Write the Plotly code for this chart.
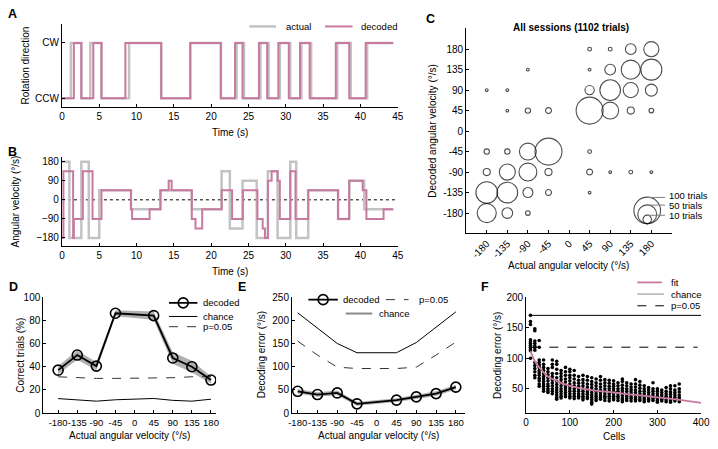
import plotly.graph_objects as go

W, H = 718, 449
FONT = "Liberation Sans, Arial, sans-serif"
PINK = "#c8799f"
LGRAY = "#c3c3c3"

# ---------------- Panel A : rotation direction (0 = CCW, 1 = CW) ----------------
a_time_actual = [0, 1.2, 2.6, 3.8, 5.3, 9.0, 13.3, 17.2, 21.3, 23.4, 24.4, 26.6, 27.7,
                 29.2, 30.6, 32.1, 33.4, 36.9, 38.7, 40.9, 44.4]
a_dir_actual = [0, 1, 0, 1, 0, 1, 0, 1, 0, 1, 0, 1, 0, 1, 0, 1, 0, 1, 0, 1]
a_time_decoded = [0, 1.6, 2.6, 4.2, 5.3, 8.5, 13.3, 17.2, 21.3, 23.2, 24.2, 26.4, 27.5,
                  29.0, 30.4, 31.9, 33.2, 36.7, 38.5, 40.7, 44.4]
a_dir_decoded = [0, 1, 0, 1, 0, 1, 0, 1, 0, 1, 0, 1, 0, 1, 0, 1, 0, 1, 0, 1]
a_dir_labels = ["CCW", "CW"]
time_ticks = [0, 5, 10, 15, 20, 25, 30, 35, 40, 45]

# ---------------- Panel B : angular velocity ----------------
b_time_actual = [0, 1.0, 2.6, 3.6, 5.0, 9.25, 13.2, 17.4, 21.4, 22.5, 24.2, 26.1, 27.6,
                 28.9, 30.6, 31.4, 33.0, 37.0, 38.5, 40.5, 44.4]
b_vel_actual = [180, -180, 180, -180, 45, -45, 45, -45, 135, -135, 90, -180, 135,
                -180, 180, -180, 45, -90, 90, -45]
b_time_decoded = [0, 0.2, 1.5, 1.6, 2.8, 4.1, 5.3, 9.25, 9.4, 11.75, 13.2, 14.3, 14.7,
                  17.4, 17.9, 18.8, 21.4, 22.8, 24.25, 26.2, 26.9, 27.2, 27.6, 28.1,
                  28.9, 29.2, 30.6, 31.3, 33.0, 37.0, 38.5, 40.3, 40.8, 43.1, 44.4]
b_vel_decoded = [-180, 135, -180, -90, 135, -90, 45, -45, -90, -45, 45, 90, 45,
                 -90, -135, -45, 45, -90, 45, -90, -135, -180, 90, 135,
                 90, -90, 135, -90, 45, -90, 90, 45, -90, -45]
b_vel_ticks = [-180, -90, 0, 90, 180]

# ---------------- Panel C : confusion bubbles ----------------
c_actual = [45, 90, 135, 180,
            -90, 45, 90, 135, 180,
            -180, -135, 45, 90, 135, 180,
            -135, -90, -45, 45, 90, 135, 180,
            -180, -135, -90, -45, 45,
            -180, -135, -90, -45, 45, 90, 135, 180,
            -180, -135, -90, -45, 45,
            -180, -135, -90]
c_decoded = [180, 180, 180, 180,
             135, 135, 135, 135, 135,
             90, 90, 90, 90, 90, 90,
             45, 45, 45, 45, 45, 45, 45,
             -45, -45, -45, -45, -45,
             -90, -90, -90, -90, -90, -90, -90, -90,
             -135, -135, -135, -135, -135,
             -180, -180, -180]
c_trials = [2, 2, 16, 32,
            1, 1, 16, 51, 62,
            1, 1, 12, 60, 32, 20,
            1, 4, 5, 102, 40, 7, 3,
            4, 4, 40, 102, 2,
            7, 36, 45, 7, 5, 1, 2, 1,
            66, 60, 14, 5, 1,
            51, 16, 3]
c_legend_trials = [100, 50, 10]
c_legend_labels = ["100 trials", "50 trials", "10 trials"]
c_title = "All sessions (1102 trials)"
vel_ticks = [-180, -135, -90, -45, 0, 45, 90, 135, 180]

# ---------------- Panel D : correct trials ----------------
d_vel = [-180, -135, -90, -45, 45, 90, 135, 180]
d_correct = [37, 50, 40.5, 86, 84, 47.5, 40, 28.5]
d_sem = [3.5, 4, 3.5, 2.5, 3.5, 5, 5, 3]
d_chance = [12.5, 11.5, 10.3, 11.5, 12, 12.6, 11, 10.3, 12]
d_p05 = [31.3, 30.5, 29.9, 29.9, 30, 29.9, 30.5, 31.3, 31.5]

# ---------------- Panel E : decoding error ----------------
e_error = [47, 40, 43.5, 20, 28, 35, 42, 56]
e_sem = [5, 5, 5, 4, 4, 5, 5, 5]
e_chance = [216, 182, 150, 130, 130, 130, 152, 184, 218]
e_p05 = [155, 125, 99, 96, 96, 96, 99, 125, 153]

# ---------------- Panel F : error vs. number of cells ----------------
f_cells = [10, 20, 30, 40, 50, 60, 70, 80, 90, 100, 110, 120, 130, 140, 150, 160, 170, 180,
           190, 200, 210, 220, 230, 240, 250, 260, 270, 280, 290, 300, 310, 320, 330, 340, 350]
f_errors = [
    [170, 160, 155, 130, 127, 124, 121, 118, 115, 112, 100],
    [148, 145, 128, 124, 120, 117, 113, 93, 88, 83, 78, 72, 68],
    [129, 118, 97, 93, 89, 85, 80, 76, 72, 67, 63, 58, 54],
    [97, 90, 85, 80, 75, 70, 66, 62, 58, 54, 50, 46],
    [83, 78, 73, 68, 63, 58, 54, 50, 47, 44],
    [97, 90, 85, 75, 70, 65, 60, 55, 50, 46, 42],
    [95, 90, 82, 75, 68, 62, 57, 52, 48, 44, 40, 36, 33],
    [80, 75, 70, 65, 60, 55, 50, 46, 42, 38, 35],
    [85, 78, 72, 66, 61, 56, 52, 48, 44, 40, 37],
    [82, 78, 72, 68, 63, 58, 54, 50, 46, 42, 38, 35],
    [80, 72, 66, 60, 55, 50, 46, 42, 38, 34],
    [70, 64, 59, 54, 50, 46, 42, 38, 35],
    [72, 65, 60, 55, 50, 46, 42, 38, 35, 32],
    [70, 64, 58, 53, 49, 45, 41, 37, 34],
    [68, 62, 57, 52, 48, 44, 40, 36, 32, 28, 25],
    [66, 60, 55, 50, 46, 42, 38, 34, 31],
    [70, 64, 58, 53, 48, 44, 40, 36, 33],
    [65, 60, 55, 50, 46, 42, 38, 35, 31],
    [64, 59, 54, 50, 46, 42, 38, 34, 30],
    [63, 58, 54, 50, 46, 42, 38, 35, 32],
    [60, 55, 50, 46, 42, 38, 35, 31],
    [66, 62, 56, 51, 47, 43, 39, 35, 32, 29],
    [60, 55, 50, 46, 42, 38, 34, 31],
    [58, 53, 49, 45, 41, 37, 34, 30],
    [65, 58, 53, 48, 44, 40, 36, 33, 30],
    [62, 56, 51, 46, 42, 38, 34, 31],
    [55, 50, 46, 42, 38, 35, 32, 29],
    [52, 48, 44, 40, 36, 33, 30],
    [60, 50, 46, 42, 38, 34, 31],
    [50, 46, 42, 38, 34, 31, 28],
    [48, 44, 40, 36, 33, 30],
    [52, 46, 42, 38, 35, 32, 29],
    [55, 50, 45, 41, 37, 34, 31, 28],
    [55, 48, 44, 40, 36, 33, 30],
    [58, 50, 45, 40, 36, 32, 29],
]
f_fit_cells = [10, 20, 30, 40, 50, 75, 100, 150, 200, 250, 300, 350, 400]
f_fit_error = [112, 95, 85, 77, 70, 61, 55, 48, 44, 40, 36, 32, 27]
f_chance_cells = [9, 400]
f_chance = [170, 170]
f_p05_cells = [12, 392]
f_p05 = [118, 118]

# ---------------- layout geometry (pixels) ----------------
def dom_x(x0, x1):
    return [x0 / W, x1 / W]

def dom_y(top, bottom):
    return [1 - bottom / H, 1 - top / H]

fig = go.Figure()

axis_common = dict(showline=True, linecolor="black", linewidth=1, ticks="inside",
                   ticklen=3, tickcolor="black", showgrid=False, zeroline=False,
                   tickfont=dict(size=10, color="black", family=FONT), mirror=False,
                   fixedrange=True)

# Panel A traces
fig.add_trace(go.Scatter(x=a_time_actual, y=a_dir_actual + [a_dir_actual[-1]], mode="lines",
                         line=dict(color=LGRAY, width=2.5, shape="hv"), xaxis="x", yaxis="y"))
fig.add_trace(go.Scatter(x=a_time_decoded, y=a_dir_decoded + [a_dir_decoded[-1]], mode="lines",
                         line=dict(color=PINK, width=2, shape="hv"), xaxis="x", yaxis="y"))

# Panel B traces
fig.add_trace(go.Scatter(x=[time_ticks[0], time_ticks[-1]], y=[0, 0], mode="lines",
                         line=dict(color="black", width=1, dash="dot"), xaxis="x2", yaxis="y2"))
fig.add_trace(go.Scatter(x=b_time_actual, y=b_vel_actual + [b_vel_actual[-1]], mode="lines",
                         line=dict(color=LGRAY, width=2.5, shape="hv"), xaxis="x2", yaxis="y2"))
fig.add_trace(go.Scatter(x=b_time_decoded, y=b_vel_decoded + [b_vel_decoded[-1]], mode="lines",
                         line=dict(color=PINK, width=2, shape="hv"), xaxis="x2", yaxis="y2"))

# Panel C traces
SIZEREF = 0.28
fig.add_trace(go.Scatter(x=c_actual, y=c_decoded, mode="markers",
                         marker=dict(symbol="circle-open", color="black", size=c_trials,
                                     sizemode="area", sizeref=SIZEREF, line=dict(width=1.1)),
                         xaxis="x3", yaxis="y3"))
# bubble size legend (bottom-aligned circles)
c_px_per_unit = (233.3 - 23) / 450.0
leg_cx = 171
leg_bottom = -203
leg_y = []
leg_top = []
for n in c_legend_trials:
    r_px = (n / 2 / SIZEREF) ** 0.5
    leg_y.append(leg_bottom + r_px / c_px_per_unit)
    leg_top.append(leg_bottom + 2 * r_px / c_px_per_unit)
fig.add_trace(go.Scatter(x=[leg_cx] * len(c_legend_trials), y=leg_y, mode="markers",
                         marker=dict(symbol="circle-open", color="black", size=c_legend_trials,
                                     sizemode="area", sizeref=SIZEREF, line=dict(width=1.1)),
                         xaxis="x3", yaxis="y3"))
for yt in leg_top:
    fig.add_trace(go.Scatter(x=[leg_cx, 210], y=[yt, yt], mode="lines",
                             line=dict(color="#808080", width=1), xaxis="x3", yaxis="y3"))

# Panel D traces
def band(xv, yv, ev):
    up = [y + e for y, e in zip(yv, ev)]
    lo = [y - e for y, e in zip(yv, ev)]
    return list(xv) + list(xv)[::-1], up + lo[::-1]

bx, by = band(d_vel, d_correct, d_sem)
fig.add_trace(go.Scatter(x=bx, y=by, fill="toself", fillcolor="rgba(150,150,150,0.75)",
                         line=dict(width=0), mode="lines", xaxis="x4", yaxis="y4"))
fig.add_trace(go.Scatter(x=vel_ticks, y=d_chance, mode="lines", line=dict(color="black", width=1),
                         xaxis="x4", yaxis="y4"))
fig.add_trace(go.Scatter(x=vel_ticks, y=d_p05, mode="lines",
                         line=dict(color="#333333", width=1, dash="dash"), xaxis="x4", yaxis="y4"))
fig.add_trace(go.Scatter(x=d_vel, y=d_correct, mode="lines+markers",
                         line=dict(color="black", width=1.8),
                         marker=dict(symbol="circle-open", size=10, color="black",
                                     line=dict(width=1.6)),
                         xaxis="x4", yaxis="y4"))

# Panel E traces
bx, by = band(d_vel, e_error, e_sem)
fig.add_trace(go.Scatter(x=bx, y=by, fill="toself", fillcolor="rgba(150,150,150,0.75)",
                         line=dict(width=0), mode="lines", xaxis="x5", yaxis="y5"))
fig.add_trace(go.Scatter(x=vel_ticks, y=e_chance, mode="lines", line=dict(color="black", width=1),
                         xaxis="x5", yaxis="y5"))
fig.add_trace(go.Scatter(x=vel_ticks, y=e_p05, mode="lines",
                         line=dict(color="#333333", width=1, dash="dash"), xaxis="x5", yaxis="y5"))
fig.add_trace(go.Scatter(x=d_vel, y=e_error, mode="lines+markers",
                         line=dict(color="black", width=1.8),
                         marker=dict(symbol="circle-open", size=10, color="black",
                                     line=dict(width=1.6)),
                         xaxis="x5", yaxis="y5"))

# Panel F traces
fx, fy = [], []
for c, vals in zip(f_cells, f_errors):
    for v in vals:
        fx.append(c)
        fy.append(v)
fig.add_trace(go.Scatter(x=f_chance_cells, y=f_chance, mode="lines",
                         line=dict(color="black", width=1), xaxis="x6", yaxis="y6"))
fig.add_trace(go.Scatter(x=f_p05_cells, y=f_p05, mode="lines",
                         line=dict(color="black", width=1, dash="dash"), xaxis="x6", yaxis="y6"))
fig.add_trace(go.Scatter(x=fx, y=fy, mode="markers",
                         marker=dict(symbol="circle", size=3.6, color="black"),
                         xaxis="x6", yaxis="y6"))
fig.add_trace(go.Scatter(x=f_fit_cells, y=f_fit_error, mode="lines",
                         line=dict(color=PINK, width=1.8, shape="spline"), xaxis="x6", yaxis="y6"))

# ---------------- overlay (pixel coordinates) for legends ----------------
def seg(x0, x1, y, color="black", width=1, dash=None):
    fig.add_trace(go.Scatter(x=[x0, x1], y=[y, y], mode="lines",
                             line=dict(color=color, width=width, dash=dash),
                             xaxis="x7", yaxis="y7"))

def ring(x, y):
    fig.add_trace(go.Scatter(x=[x], y=[y], mode="markers",
                             marker=dict(symbol="circle-open", size=10, color="black",
                                         line=dict(width=1.6)), xaxis="x7", yaxis="y7"))

seg(250, 277, 21, LGRAY, 2.5)
seg(327, 355, 21, PINK, 2)
seg(168, 197, 305, "black", 1.8); ring(182.5, 305)
seg(168, 197, 319, "black", 1)
seg(168, 197, 329.5, "#333333", 1, "dash")
seg(310, 340, 301.7, "black", 1.8); ring(325, 301.7)
seg(389, 412, 301.7, "#333333", 1, "dash")
seg(348, 375, 316, "#8a8a8a", 2)
seg(645, 670, 284, PINK, 1.8)
seg(645, 672, 296, "#8a8a8a", 1)
seg(645, 672, 308, "black", 1, "dash")

annotations = []

def txt(x, y, s, size=10, bold=False, anchor="left", angle=0, ref=("x7", "y7")):
    annotations.append(dict(x=x, y=y, xref=ref[0], yref=ref[1], text=("<b>%s</b>" % s) if bold else s,
                            showarrow=False, xanchor=anchor, yanchor="middle", textangle=angle,
                            font=dict(size=size, color="black", family=FONT)))

# panel letters
txt(2, 8, "A", 12.5, True)
txt(2, 150, "B", 12.5, True)
txt(428, 13, "C", 12.5, True)
txt(3, 289, "D", 12.5, True)
txt(236, 289, "E", 12.5, True)
txt(484, 289, "F", 12.5, True)

# legends text
txt(285, 21, "actual", 9.5)
txt(362, 21, "decoded", 9.5)
txt(201, 305, "decoded", 9.5)
txt(201, 319, "chance", 9.5)
txt(201, 329.5, "p=0.05", 9.5)
txt(343.5, 301.7, "decoded", 9.5)
txt(421, 301.7, "p=0.05", 9.5)
txt(380, 316, "chance", 9.5)
txt(677, 284, "fit", 9.5)
txt(677, 296, "chance", 9.5)
txt(677, 308, "p=0.05", 9.5)

# axis titles
txt(21.5, 61, "Rotation direction", 10, anchor="center", angle=-90)
txt(230, 130, "Time (s)", 10, anchor="center")
txt(12, 201, "Angular velocity (°/s)", 10, anchor="center", angle=-90)
txt(230, 273, "Time (s)", 10, anchor="center")
txt(577, 22, c_title, 10, True, anchor="center")
txt(436, 128, "Decoded angular velocity (°/s)", 10, anchor="center", angle=-90)
txt(575, 267, "Actual angular velocity (°/s)", 10, anchor="center")
txt(16, 358.6, "Correct trials (%)", 10, anchor="center", angle=-90)
txt(128, 441.7, "Actual angular velocity (°/s)", 10, anchor="center")
txt(262, 358.6, "Decoding error (°/s)", 10, anchor="center", angle=-90)
txt(381, 441.7, "Actual angular velocity (°/s)", 10, anchor="center")
txt(502, 358.6, "Decoding error (°/s)", 10, anchor="center", angle=-90)
txt(621, 442.7, "Cells", 10, anchor="center")

# C bubble legend labels (stacked like the original)
for yl, lab in zip([195, 205, 215], c_legend_labels):
    txt(675, yl, lab, 9.5)

vel_text = [str(v) for v in vel_ticks]
small_tick = dict(size=9.5, color="black", family=FONT)

layout = dict(
    width=W, height=H, autosize=False, showlegend=False,
    margin=dict(l=0, r=0, t=0, b=0, pad=0),
    paper_bgcolor="white", plot_bgcolor="rgba(0,0,0,0)",
    font=dict(family=FONT, size=10, color="black"),
    xaxis=dict(axis_common, domain=dom_x(59, 401), range=[0, 45], tickvals=time_ticks,
               tickangle=0, anchor="y"),
    yaxis=dict(axis_common, domain=dom_y(18, 104), range=[-0.16, 1.35], tickvals=[0, 1],
               ticktext=a_dir_labels, anchor="x"),
    xaxis2=dict(axis_common, domain=dom_x(59, 401), range=[0, 45], tickvals=time_ticks,
                tickangle=0, anchor="y2"),
    yaxis2=dict(axis_common, domain=dom_y(155, 247), range=[-220, 203], tickvals=b_vel_ticks,
                anchor="x2"),
    xaxis3=dict(axis_common, domain=dom_x(470.7, 680), range=[-225, 224.5], tickvals=vel_ticks,
                ticktext=vel_text, tickangle=-45, anchor="y3"),
    yaxis3=dict(axis_common, domain=dom_y(23, 233.3), range=[-224, 225.6], tickvals=vel_ticks,
                ticktext=vel_text, anchor="x3"),
    xaxis4=dict(axis_common, domain=dom_x(40, 216), range=[-215, 192], tickvals=vel_ticks,
                ticktext=vel_text, tickangle=0, tickfont=small_tick, anchor="y4"),
    yaxis4=dict(axis_common, domain=dom_y(299, 418.3), range=[0, 100],
                tickvals=[0, 20, 40, 60, 80, 100], anchor="x4"),
    xaxis5=dict(axis_common, domain=dom_x(293.3, 470), range=[-193, 202], tickvals=vel_ticks,
                ticktext=vel_text, tickangle=0, tickfont=small_tick, anchor="y5"),
    yaxis5=dict(axis_common, domain=dom_y(299, 418.3), range=[0, 250],
                tickvals=[0, 50, 100, 150, 200, 250], anchor="x5"),
    xaxis6=dict(axis_common, domain=dom_x(531.7, 710), range=[0, 400],
                tickvals=[0, 100, 200, 300, 400], tickangle=0, anchor="y6"),
    yaxis6=dict(axis_common, domain=dom_y(299, 418.3), range=[10.3, 200],
                tickvals=[50, 100, 150, 200], anchor="x6"),
    xaxis7=dict(domain=[0, 1], range=[0, W], visible=False, fixedrange=True, anchor="y7"),
    yaxis7=dict(domain=[0, 1], range=[H, 0], visible=False, fixedrange=True, anchor="x7"),
    annotations=annotations,
)
fig.update_layout(layout)

fig.write_html("out.html", post_script="document.body.style.margin='0';",
               config={"displayModeBar": False})
